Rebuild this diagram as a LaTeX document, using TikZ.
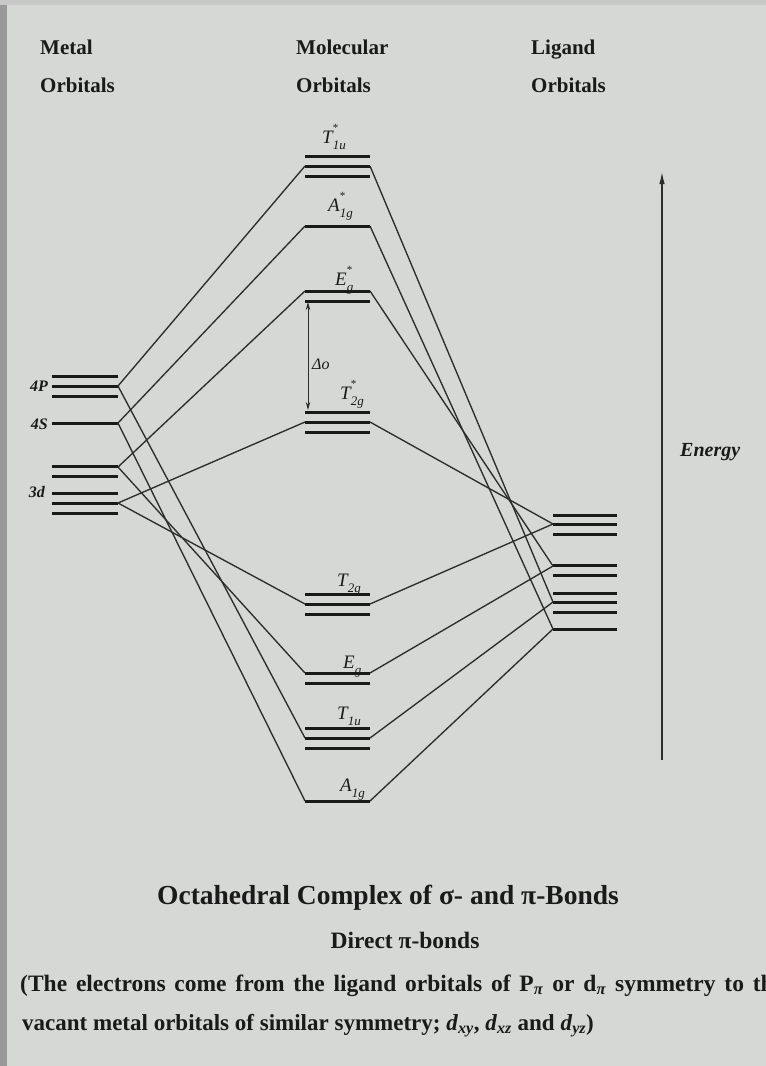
\documentclass[tikz,border=0pt]{standalone}
\usepackage{fontspec}
\setmainfont{Liberation Serif}
\usetikzlibrary{arrows.meta}
\definecolor{paper}{RGB}{213,216,212}
\definecolor{ink}{RGB}{26,26,26}
\definecolor{lineink}{RGB}{45,45,45}
\newcommand\fs[1]{\fontsize{#1}{#1}\selectfont}
\newcommand\sbs[1]{\raisebox{-0.32em}{\fs{13}\itshape #1}}
\newcommand\sps{\rlap{\raisebox{0.62em}{\fs{11}\upshape *}}}
\begin{document}
\begin{tikzpicture}[x=1pt,y=-1pt,
  lvl/.style={line width=3pt, draw=ink},
  conn/.style={line width=1.35pt, draw=lineink},
  hdr/.style={font=\fs{21}\bfseries, text=ink, inner sep=0pt, anchor=base west},
  molab/.style={font=\fs{19}\itshape, text=ink, inner sep=0pt, anchor=base west},
  metlab/.style={font=\fs{16}\bfseries\itshape, text=ink, inner sep=0pt, anchor=base east},
  txt/.style={text=ink, inner sep=0pt}]
\useasboundingbox (0,0) rectangle (766,1066);
\begin{scope}
\clip (0,0) rectangle (766,1066);
\fill[paper] (0,0) rectangle (766,1066);
\fill[black!40] (0,0) rectangle (7,1066);
\fill[black!22] (0,0) rectangle (766,5);

% headers
\node[hdr] (h1a) at (40,54) {Metal};
\node[hdr] (h1b) at (40,92) {Orbitals};
\node[hdr] (h2a) at (296,54) {Molecular};
\node[hdr] (h2b) at (296,92) {Orbitals};
\node[hdr] (h3a) at (531,54) {Ligand};
\node[hdr] (h3b) at (531,92) {Orbitals};

% metal levels
\foreach \y in {376,386,396,423,466,476,493,503,513}
  \draw[lvl] (52,\y) -- (118,\y);
\node[metlab] (l4p) at (48,391) {4P};
\node[metlab] (l4s) at (48,429) {4S};
\node[metlab] (l3d) at (45,497) {3d};
\coordinate (m4p) at (118,386);
\coordinate (m4s) at (118,423);
\coordinate (m3e) at (118,467);
\coordinate (m3t) at (118,503);

% MO levels
\foreach \y in {156,166,176,226,291,301,412,422,432,594,604,614,673,683,728,738,748,801}
  \draw[lvl] (305,\y) -- (370,\y);
\coordinate (t1usL) at (305,166); \coordinate (t1usR) at (370,166);
\coordinate (a1gsL) at (305,226); \coordinate (a1gsR) at (370,226);
\coordinate (egsL)  at (305,291); \coordinate (egsR)  at (370,291);
\coordinate (t2gsL) at (305,422); \coordinate (t2gsR) at (370,422);
\coordinate (t2gL)  at (305,604); \coordinate (t2gR)  at (370,604);
\coordinate (egL)   at (305,673); \coordinate (egR)   at (370,673);
\coordinate (t1uL)  at (305,738); \coordinate (t1uR)  at (370,738);
\coordinate (a1gL)  at (305,801); \coordinate (a1gR)  at (370,801);

\node[molab] (lt1us) at (322,143) {T\sps\sbs{1u}};
\node[molab] (la1gs) at (328,211) {A\sps\sbs{1g}};
\node[molab] (legs)  at (335,285) {E\sps\sbs{g}};
\node[molab] (lt2gs) at (340,399) {T\sps\sbs{2g}};
\node[molab] (lt2g)  at (337,586) {T\sbs{2g}};
\node[molab] (leg)   at (343,668) {E\sbs{g}};
\node[molab] (lt1u)  at (337,719) {T\sbs{1u}};
\node[molab] (la1g)  at (340,791) {A\sbs{1g}};

% Delta o
\coordinate (dtop) at (308,302);
\coordinate (dbot) at (308,410);
\draw[line width=1pt, draw=lineink, {Stealth[length=8pt,width=4.5pt]}-{Stealth[length=8pt,width=4.5pt]}] (dtop) -- (dbot);
\node[txt, font=\fs{16}\itshape, anchor=west] (ldo) at (312,364) {Δo};

% ligand levels
\foreach \y in {515,524,534,565,575,593,602,612,629}
  \draw[lvl] (553,\y) -- (617,\y);
\coordinate (lg1) at (553,524);
\coordinate (lg2) at (553,566);
\coordinate (lg3) at (553,602);
\coordinate (lg4) at (553,629);

% metal -> MO
\draw[conn] (m4p) -- (t1usL);
\draw[conn] (m4s) -- (a1gsL);
\draw[conn] (m3e) -- (egsL);
\draw[conn] (m3t) -- (t2gsL);
\draw[conn] (m3t) -- (t2gL);
\draw[conn] (m3e) -- (egL);
\draw[conn] (m4p) -- (t1uL);
\draw[conn] (m4s) -- (a1gL);
% MO -> ligand
\draw[conn] (t1usR) -- (lg3);
\draw[conn] (a1gsR) -- (lg4);
\draw[conn] (egsR) -- (lg2);
\draw[conn] (t2gsR) -- (lg1);
\draw[conn] (t2gR) -- (lg1);
\draw[conn] (egR) -- (lg2);
\draw[conn] (t1uR) -- (lg3);
\draw[conn] (a1gR) -- (lg4);

% energy axis
\coordinate (ebot) at (662,760);
\coordinate (etop) at (662,172);
\draw[line width=1.2pt, draw=lineink, -{Latex[length=12pt,width=5.5pt]}] (ebot) -- (etop);
\node[txt, font=\fs{20}\bfseries\itshape, anchor=base west] (len) at (680,456) {Energy};

% captions
\node[txt, font=\fs{27.5}\bfseries, anchor=base] (cap1) at (388,904) {Octahedral Complex of σ- and π-Bonds};
\node[txt, font=\fs{23.5}\bfseries, anchor=base] (cap2) at (405,948) {Direct π-bonds};
\node[txt, font=\fs{23.5}\bfseries, anchor=base west] (cap3) at (20,991) {\makebox[764pt][s]{(The electrons come from the ligand orbitals of P\textsubscript{\textit{π}} or d\textsubscript{\textit{π}} symmetry to the}};
\node[txt, font=\fs{23}\bfseries, anchor=base west] (cap4) at (22,1030) {vacant metal orbitals of similar symmetry; \textit{d}\textsubscript{\textit{xy}}, \textit{d}\textsubscript{\textit{xz}} and \textit{d}\textsubscript{\textit{yz}})};
\end{scope}
\end{tikzpicture}
\end{document}
